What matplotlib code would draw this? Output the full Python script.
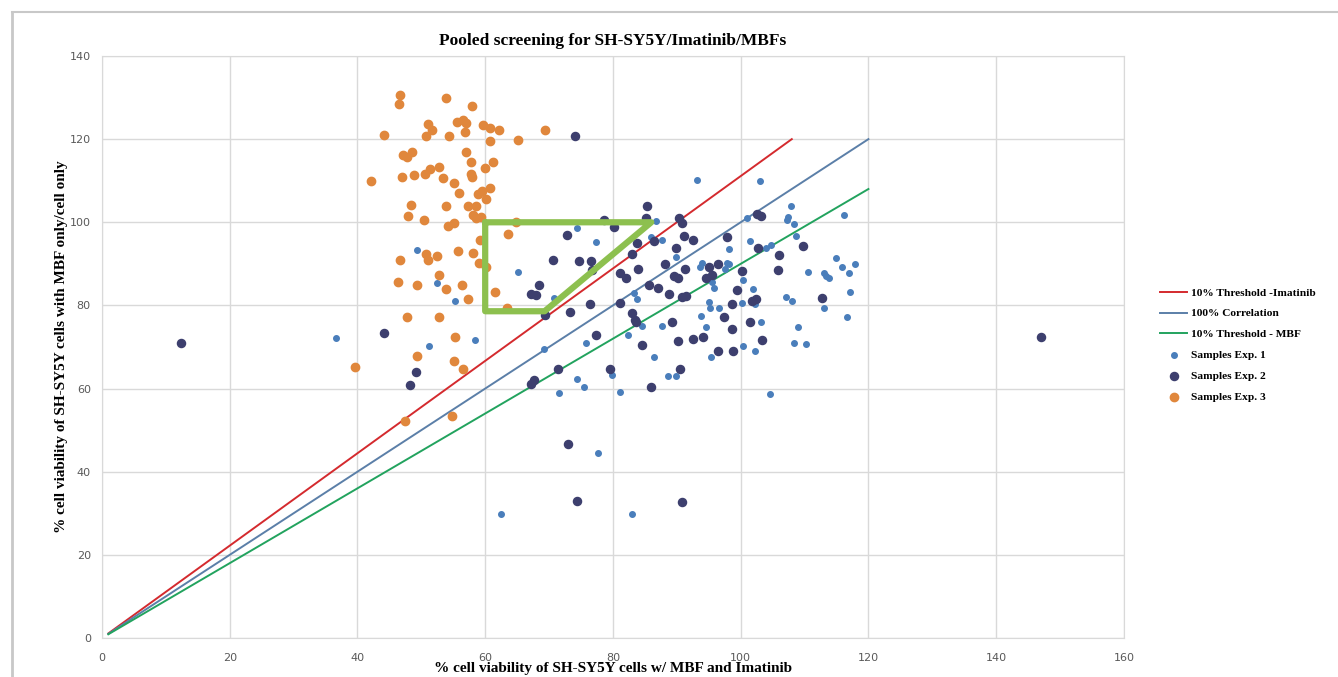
import matplotlib
matplotlib.use("Agg")
import matplotlib.pyplot as plt
from matplotlib.lines import Line2D

# threshold / correlation lines (start and end points)
imatinib_x = [1, 108]
imatinib_y = [1.1, 120]
corr_x = [1, 120]
corr_y = [1, 120]
mbf_x = [1, 120]
mbf_y = [0.9, 108]

# Samples Exp. 1
exp1_x = [49.3, 52.5, 55.2, 65.1, 58.4, 51.2, 69.2, 70.8, 71.6, 36.6,
          93.2, 86.7, 74.4, 86.0, 87.7, 77.4, 89.8, 93.9, 93.6, 97.9,
          97.6, 95.5, 95.8, 83.3, 83.7, 95.0, 95.2, 96.6, 93.8, 84.6,
          87.7, 94.6, 82.3, 75.8, 86.4, 95.4, 74.4, 79.9, 88.6, 89.9,
          103.1, 107.8, 107.4, 107.2, 108.4, 116.1, 101.0, 101.5, 108.7, 98.2,
          104.0, 104.7, 98.1, 115.0, 115.9, 117.9, 117.0, 110.6, 113.1, 113.4,
          113.8, 100.3, 102.0, 117.1, 107.1, 108.1, 100.2, 102.2, 113.0, 116.7,
          103.2, 108.9, 100.3, 102.3, 108.3, 110.3,
          77.7, 83.0, 62.4, 104.6, 75.5, 81.1]
exp1_y = [93.3, 85.5, 81.0, 88.0, 71.8, 70.3, 69.6, 81.8, 59.0, 72.1,
          110.1, 100.3, 98.6, 96.5, 95.8, 95.2, 91.7, 90.2, 89.3, 90.2,
          88.7, 85.7, 84.3, 83.0, 81.5, 80.9, 79.5, 79.3, 77.4, 75.1,
          75.0, 74.9, 73.0, 71.0, 67.6, 67.6, 62.4, 63.2, 63.0, 63.0,
          109.9, 103.8, 101.3, 100.6, 99.7, 101.7, 101.1, 95.4, 96.7, 93.5,
          93.7, 94.5, 90.0, 91.4, 89.3, 90.0, 87.8, 88.1, 87.7, 87.1,
          86.5, 86.0, 84.0, 83.3, 82.0, 81.1, 80.5, 80.3, 79.5, 77.3,
          76.0, 74.9, 70.2, 69.1, 70.9, 70.7,
          44.6, 29.9, 29.9, 58.6, 60.3, 59.1]

# Samples Exp. 2
exp2_x = [12.4, 74.0, 44.2, 49.1, 48.2, 70.6, 68.5, 67.2, 68.0, 69.4,
          71.4, 67.7, 67.1,
          85.4, 85.2, 78.6, 80.1, 90.3, 90.8, 72.8, 91.2, 92.5, 97.8,
          86.4, 83.8, 89.8, 83.0, 74.7, 76.6, 76.8, 84.0, 88.1, 91.3,
          95.0, 96.4, 81.1, 82.0, 89.5, 90.2, 94.5, 95.5, 85.6, 87.1,
          88.8, 90.8, 91.4, 76.4, 81.1, 73.2, 83.0, 83.4, 83.6, 89.2,
          77.4, 84.5, 90.2, 92.5, 94.1, 96.4, 79.5, 90.5,
          102.6, 103.2, 102.7, 109.7, 106.0, 105.8, 100.2, 99.5, 112.7, 101.8,
          102.4, 98.7, 97.4, 98.7, 101.5, 103.4, 98.8,
          73.0, 74.4, 90.8, 86.0, 147.0]
exp2_y = [70.9, 120.8, 73.4, 64.0, 60.8, 90.9, 84.8, 82.8, 82.6, 77.6,
          64.7, 62.0, 61.1,
          103.9, 101.1, 100.6, 98.9, 101.1, 99.9, 97.0, 96.8, 95.7, 96.4,
          95.4, 95.0, 93.9, 92.3, 90.7, 90.7, 88.5, 88.7, 89.9, 88.7,
          89.3, 89.9, 87.8, 86.5, 87.0, 86.7, 86.5, 87.3, 84.9, 84.1,
          82.7, 82.1, 82.2, 80.3, 80.5, 78.5, 78.2, 76.4, 75.9, 75.9,
          73.0, 70.6, 71.5, 71.9, 72.5, 69.1, 64.7, 64.8,
          102.0, 101.4, 93.7, 94.3, 92.1, 88.6, 88.3, 83.6, 81.7, 81.0,
          81.5, 80.4, 77.3, 74.4, 76.0, 71.6, 69.1,
          46.7, 32.9, 32.7, 60.3, 72.4]

# Samples Exp. 3
exp3_x = [46.6, 46.5, 53.8, 57.9, 51.1, 51.6, 55.6, 56.5, 57.0, 56.8,
          59.6, 60.7, 62.2, 69.3, 44.1, 50.8, 54.3, 60.7, 65.1, 57.0,
          48.6, 47.1, 47.7, 57.7, 61.2, 59.9, 52.8, 51.3, 50.5, 48.9,
          47.0, 57.7, 58.0, 53.4, 42.1, 55.1, 55.9, 60.8, 58.9, 59.5,
          60.1, 48.4, 53.8, 57.3, 58.6, 47.9, 50.4, 58.1, 58.6, 59.4,
          55.1, 54.2, 64.9, 63.5, 59.2,
          46.6, 50.8, 51.0, 52.5, 55.8, 58.1, 59.0, 60.1, 52.7, 46.4,
          49.4, 53.8, 56.3, 57.3, 61.5, 63.4, 47.7, 52.7, 55.2, 49.4,
          55.1, 56.5, 47.4, 54.8, 39.6]
exp3_y = [130.5, 128.4, 130.0, 128.0, 123.7, 122.3, 124.2, 124.7, 123.9, 121.7,
          123.3, 122.7, 122.1, 122.1, 121.1, 120.8, 120.8, 119.6, 119.9, 116.8,
          116.8, 116.2, 115.6, 114.5, 114.5, 113.1, 113.4, 112.7, 111.7, 111.4,
          110.9, 111.7, 110.8, 110.7, 110.0, 109.4, 107.1, 108.2, 106.9, 107.5,
          105.5, 104.2, 103.8, 103.8, 103.8, 101.4, 100.6, 101.8, 101.1, 101.3,
          99.9, 99.2, 100.1, 97.1, 95.8,
          91.0, 92.3, 90.9, 91.9, 93.1, 92.6, 90.2, 89.3, 87.2, 85.7,
          84.9, 83.9, 84.8, 81.5, 83.3, 79.3, 77.2, 77.2, 72.4, 67.8,
          66.7, 64.8, 52.2, 53.4, 65.1]

# green highlight drawn on the chart
box_x = [60, 60, 69.3, 86, 60]
box_y = [100, 78.6, 78.6, 100, 100]

serif = 'Liberation Serif'

fig = plt.figure(figsize=(13.38, 6.77), dpi=100)
ax = fig.add_axes([0.0762, 0.0576, 0.7638, 0.8597])

ax.plot(imatinib_x, imatinib_y, color='#D42A2E', lw=1.4, label='10% Threshold -Imatinib')
ax.plot(corr_x, corr_y, color='#5B7FA8', lw=1.4, label='100% Correlation')
ax.plot(mbf_x, mbf_y, color='#22A35E', lw=1.4, label='10% Threshold - MBF')
ax.scatter(exp1_x, exp1_y, s=16, color='#4A7EBB', label='Samples Exp. 1', zorder=3)
ax.scatter(exp2_x, exp2_y, s=34, color='#3D3F6E', label='Samples Exp. 2', zorder=3)
ax.scatter(exp3_x, exp3_y, s=36, color='#E0873C', label='Samples Exp. 3', zorder=3)

ax.plot(box_x, box_y, color='#8DC04F', lw=4.5, solid_joinstyle='round',
        solid_capstyle='round', zorder=4)

ax.set_xlim(0, 160)
ax.set_ylim(0, 140)
ax.set_xticks(range(0, 161, 20))
ax.set_yticks(range(0, 141, 20))
ax.grid(True, color='#D9D9D9', lw=1)
ax.set_axisbelow(True)
for sp in ax.spines.values():
    sp.set_color('#D9D9D9')
ax.tick_params(length=0, labelsize=8, labelcolor='#595959')
ax.tick_params(axis='x', pad=11)
ax.tick_params(axis='y', pad=8)

fig.text(0.458, 0.939, 'Pooled screening for SH-SY5Y/Imatinib/MBFs',
         ha='center', va='center', family=serif, weight='bold', fontsize=12.5)
fig.text(0.458, 0.012, '% cell viability of SH-SY5Y cells w/ MBF and Imatinib',
         ha='center', va='center', family=serif, weight='bold', fontsize=11)
fig.text(0.046, 0.488, '% cell viability of SH-SY5Y cells with MBF only/cell only',
         ha='center', va='center', rotation=90, family=serif, weight='bold', fontsize=11)

fig.legend(loc='upper left', bbox_to_anchor=(0.867, 0.575), frameon=False,
           prop={'family': serif, 'weight': 'bold', 'size': 8.2},
           handlelength=2.4, handletextpad=0.35, labelspacing=0.95,
           borderpad=0, borderaxespad=0, markerscale=1.0)

# window border of the screenshot
fig.add_artist(Line2D([0.009, 1.0], [0.982, 0.982], color='#C8C8C8', lw=1.5,
                      transform=fig.transFigure))
fig.add_artist(Line2D([0.009, 0.009], [0.0, 0.982], color='#C8C8C8', lw=2,
                      transform=fig.transFigure))

fig.savefig('out.png', dpi=100)
